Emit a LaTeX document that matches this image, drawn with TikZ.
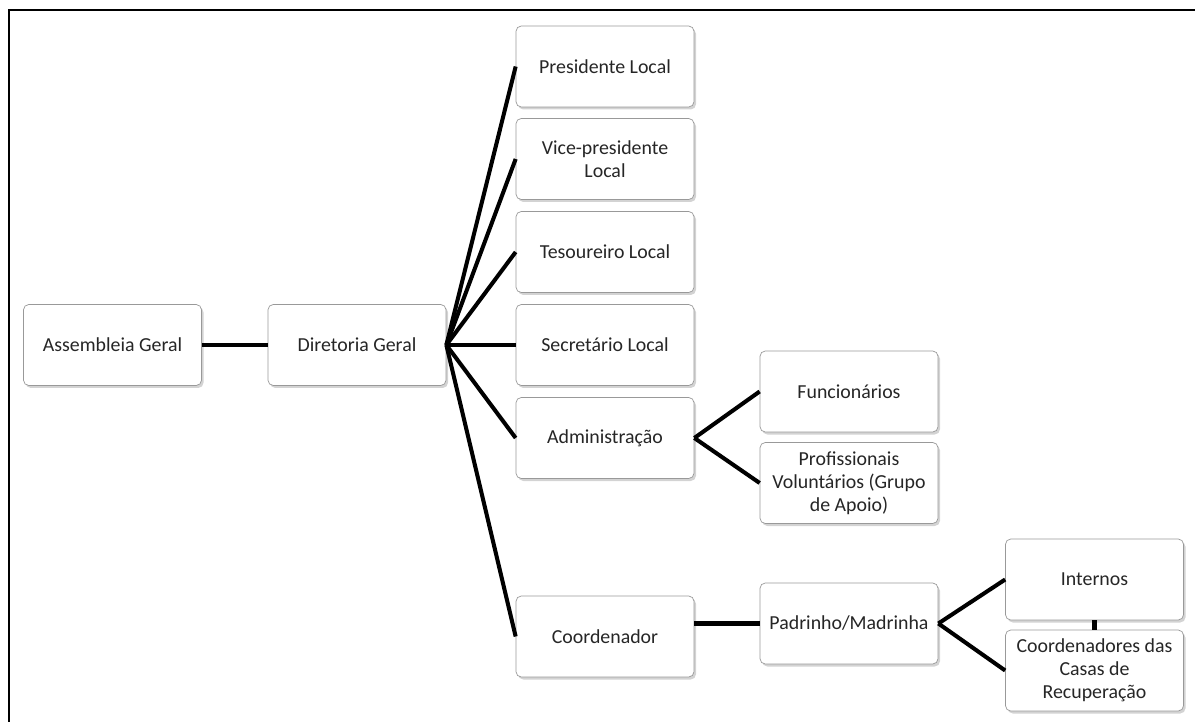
\documentclass[tikz,border=0pt]{standalone}
\usepackage{fontspec}
\setmainfont{Carlito}
\usepackage{tikz}
\usetikzlibrary{positioning,shadows}

\tikzset{
  caixa/.style={draw=black!40, fill=white, rounded corners=3pt, minimum width=3.56cm, minimum height=1.62cm, align=center, font=\fontsize{11.3}{13.2}\selectfont, text=black!85, drop shadow={opacity=0.35, shadow xshift=0.04cm, shadow yshift=-0.05cm}},
  liga/.style={line width=2.3pt}
}

\begin{document}
\begin{tikzpicture}
\useasboundingbox (0,0) rectangle (23.9,-14.44);
\draw[line width=1.4pt] (0.18,-14.44)--(0.18,-0.2)--(23.9,-0.2);

\node[caixa] (asm) at (2.25,-6.9) {Assembleia Geral};
\node[caixa] (dir) at (7.14,-6.9) {Diretoria Geral};

\node[caixa] (pres) at (12.1,-1.33) {Presidente Local};
\node[caixa] (vice) at (12.1,-3.18) {Vice-presidente\\Local};
\node[caixa] (tes) at (12.1,-5.04) {Tesoureiro Local};
\node[caixa] (sec) at (12.1,-6.9) {Secretário Local};
\node[caixa] (adm) at (12.1,-8.76) {Administração};
\node[caixa] (coord) at (12.1,-12.73) {Coordenador};

\node[caixa] (func) at (16.98,-7.83) {Funcionários};
\node[caixa] (prof) at (16.98,-9.66) {Profissionais\\Voluntários (Grupo\\de Apoio)};
\node[caixa] (pad) at (16.98,-12.47) {Padrinho/Madrinha};

\node[caixa] (int) at (21.89,-11.59) {Internos};
\node[caixa] (casas) at (21.89,-13.41) {Coordenadores das\\Casas de\\Recuperação};

\draw[liga] (asm)--(dir);
\foreach \n in {pres,vice,tes,sec,adm,coord}
  \draw[liga] (dir.east)--(\n.west);
\draw[liga] (adm.east)--(func.west);
\draw[liga] (adm.east)--(prof.west);
\draw[liga] (pad.west)--(pad.west -| coord.east);
\draw[liga] (pad.east)--(int.west);
\draw[liga] (pad.east)--(casas.west);
\draw[liga] (int.south)--(casas.north);
\end{tikzpicture}
\end{document}
